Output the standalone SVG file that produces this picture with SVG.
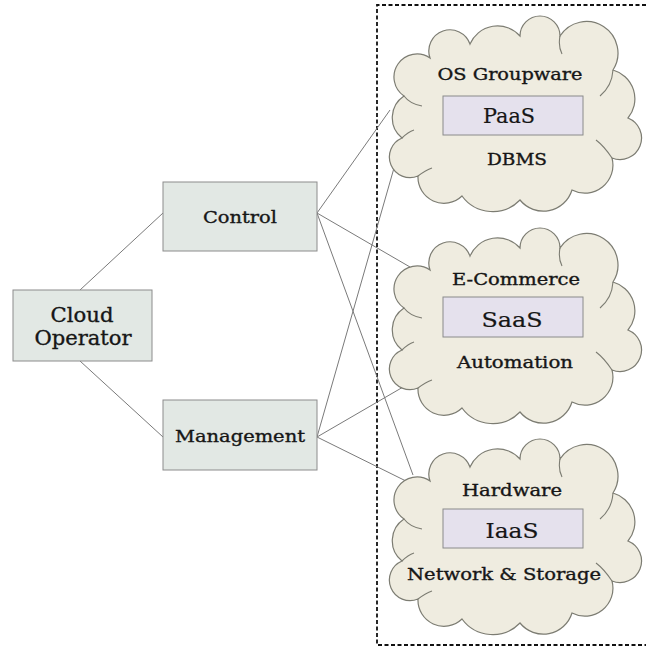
<svg xmlns="http://www.w3.org/2000/svg" xmlns:xlink="http://www.w3.org/1999/xlink" width="646" height="648" viewBox="0 0 646 648">
<style>
  .box { fill: #e2e8e4; stroke: #8c8c8c; stroke-width: 1; }
  .svc { fill: #e5e1ed; stroke: #8a8a8a; stroke-width: 1; }
  .cloud { fill: #efece0; stroke: #7c7c72; stroke-width: 1.2; }
  .inner { fill: none; stroke: #7c7c72; stroke-width: 1.1; }
  .conn { stroke: #7a7a7a; stroke-width: 1; fill: none; }
  .frame { fill: none; stroke: #111; stroke-width: 1.8; stroke-dasharray: 4 2.5; }
  text { font-family: "DejaVu Serif", "Liberation Serif", serif; fill: #161616; stroke: #161616; stroke-width: 0.35; text-anchor: middle; }
  .lbl { font-size: 17px; }
  .big { font-size: 20px; }
  .cl { font-size: 16px; }
  .sv { font-size: 21px; stroke-width: 0.2; }
</style>
<defs>
  <g id="cloudShape">
    <path class="cloud" d="M404,96 A23,23 0 0 1 430,58 A21,21 0 0 1 470,44 A30,30 0 0 1 520,36 A20,20 0 0 1 560,36 A31,31 0 0 1 613,70 A30,30 0 0 1 628,118 A21.5,21.5 0 0 1 612,158 A28,28 0 0 1 572,190 A30,30 0 0 1 520,200 A38,38 0 0 1 462,196 A26,26 0 0 1 418,176 A20.5,20.5 0 0 1 402,138 A26,26 0 0 1 404,96 Z"/>
    <path class="inner" d="M404,96 Q410,104 422,106 M560,36 Q558,46 562,54 M613,70 Q612,86 600,96 M612,158 Q604,146 596,140 M418,176 Q426,170 432,168 M402,138 Q408,132 414,130"/>
  </g>
</defs>

<path class="frame" d="M646,5 H377 V645 H646"/>

<g id="connectors">
  <line class="conn" x1="80" y1="290" x2="163" y2="213"/>
  <line class="conn" x1="80" y1="361" x2="163" y2="437"/>
  <line class="conn" x1="317" y1="213" x2="390" y2="110"/>
  <line class="conn" x1="317" y1="213" x2="410" y2="267"/>
  <line class="conn" x1="317" y1="213" x2="413" y2="475"/>
  <line class="conn" x1="317" y1="437" x2="394" y2="168"/>
  <line class="conn" x1="317" y1="437" x2="410" y2="383"/>
  <line class="conn" x1="317" y1="437" x2="412" y2="484"/>
</g>

<g id="cloud-operator">
  <rect class="box" x="13" y="290" width="139" height="71"/>
  <text class="big" x="82" y="322" textLength="63" lengthAdjust="spacingAndGlyphs">Cloud</text>
  <text class="big" x="83" y="345" textLength="97" lengthAdjust="spacingAndGlyphs">Operator</text>
</g>

<g id="control">
  <rect class="box" x="163" y="182" width="154" height="69"/>
  <text class="lbl" x="240" y="223" textLength="74" lengthAdjust="spacingAndGlyphs">Control</text>
</g>

<g id="management">
  <rect class="box" x="163" y="400" width="154" height="70"/>
  <text class="lbl" x="240" y="442" textLength="130" lengthAdjust="spacingAndGlyphs">Management</text>
</g>

<g id="paas">
  <use xlink:href="#cloudShape"/>
  <text class="cl" x="510" y="80" textLength="145" lengthAdjust="spacingAndGlyphs">OS Groupware</text>
  <rect class="svc" x="443" y="96" width="140" height="39"/>
  <text class="sv" x="509" y="123" textLength="52" lengthAdjust="spacingAndGlyphs">PaaS</text>
  <text class="cl" x="517" y="165" textLength="60" lengthAdjust="spacingAndGlyphs">DBMS</text>
</g>

<g id="saas">
  <use xlink:href="#cloudShape" transform="translate(0,212)"/>
  <text class="cl" x="516" y="285" textLength="128" lengthAdjust="spacingAndGlyphs">E-Commerce</text>
  <rect class="svc" x="443" y="297" width="140" height="40"/>
  <text class="sv" x="512" y="327" textLength="61" lengthAdjust="spacingAndGlyphs">SaaS</text>
  <text class="cl" x="515" y="368" textLength="116" lengthAdjust="spacingAndGlyphs">Automation</text>
</g>

<g id="iaas">
  <use xlink:href="#cloudShape" transform="translate(0,423)"/>
  <text class="cl" x="512" y="496" textLength="100" lengthAdjust="spacingAndGlyphs">Hardware</text>
  <rect class="svc" x="443" y="509" width="140" height="39"/>
  <text class="sv" x="512" y="538" textLength="53" lengthAdjust="spacingAndGlyphs">IaaS</text>
  <text class="cl" x="504" y="580" textLength="194" lengthAdjust="spacingAndGlyphs">Network &amp; Storage</text>
</g>
</svg>
